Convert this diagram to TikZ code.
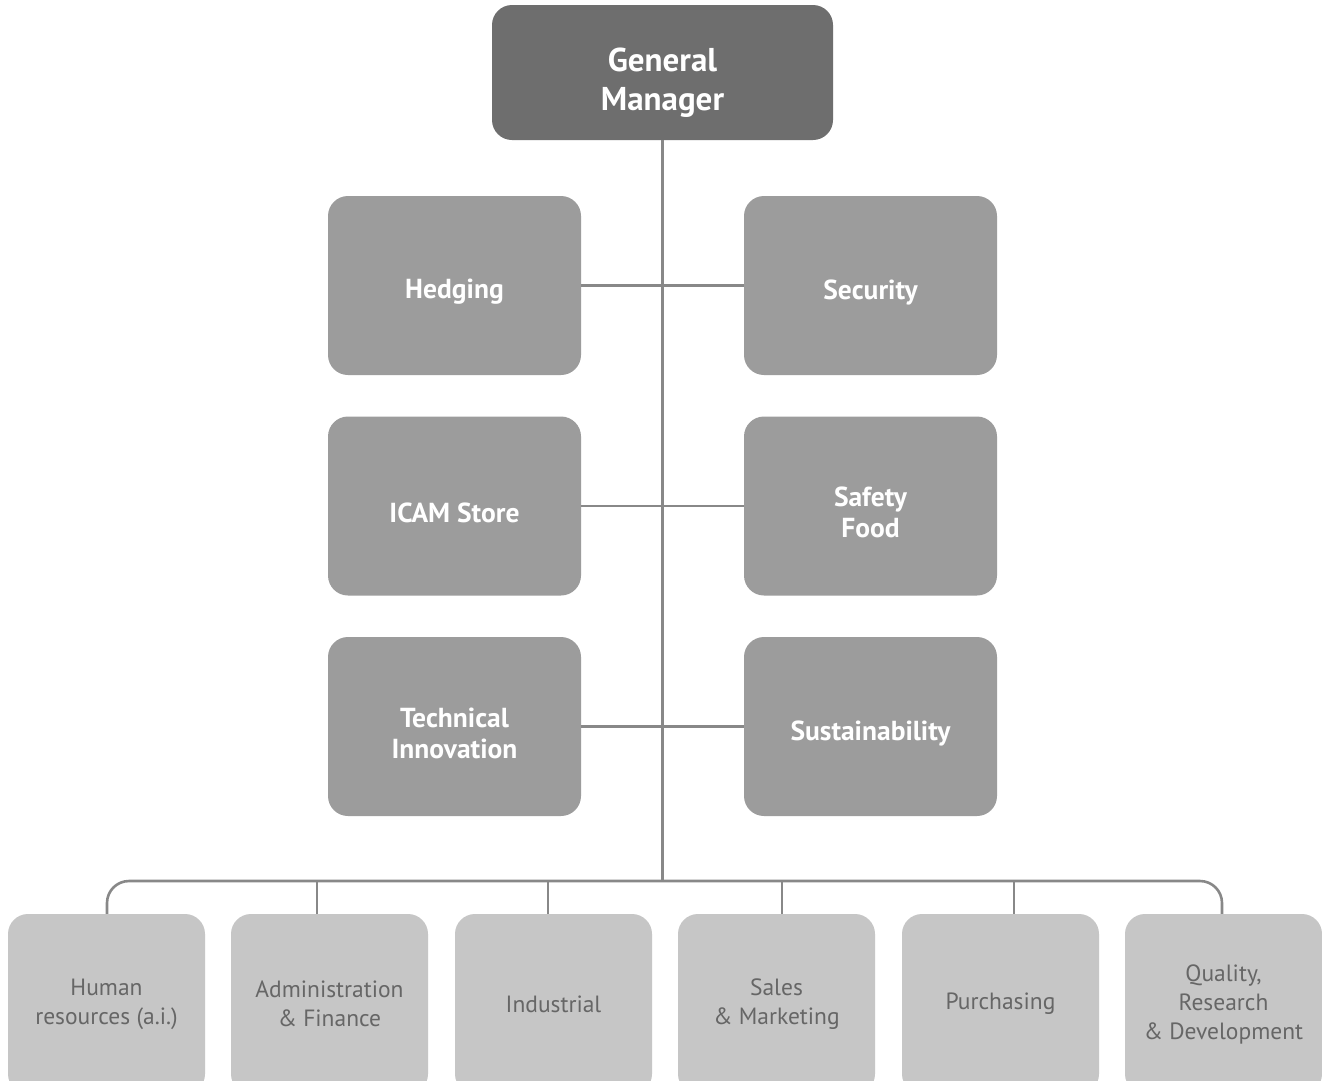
\documentclass[tikz,border=0pt]{standalone}
\usepackage{fontspec}
\setmainfont{PT Sans}
\definecolor{gmc}{HTML}{6E6E6E}
\definecolor{midc}{HTML}{9C9C9C}
\definecolor{lowc}{HTML}{C6C6C6}
\definecolor{linec}{HTML}{888888}
\definecolor{lowtext}{HTML}{666666}
\newcommand\orgbox[5]{\node[#1] (#2) at (#3) {};
  \node[#1text] (#2t) at ([yshift=#4]#2.center) {#5};}
\begin{document}
\begin{tikzpicture}[x=1pt,y=-1pt,
  box/.style={rounded corners=20pt, inner sep=0pt},
  gmbox/.style={box, fill=gmc, minimum width=341pt, minimum height=135pt},
  gmboxtext/.style={align=center, text=white, inner sep=0pt, font=\fontsize{33}{39}\selectfont\bfseries},
  midbox/.style={box, fill=midc, minimum width=253pt, minimum height=179pt},
  midboxtext/.style={align=center, text=white, inner sep=0pt, font=\fontsize{27.5}{31}\selectfont\bfseries},
  lowbox/.style={box, fill=lowc, minimum width=197pt, minimum height=180pt},
  lowboxtext/.style={align=center, text=lowtext, inner sep=0pt, font=\fontsize{23.5}{29}\selectfont},
  conn/.style={draw=linec, line width=2.6pt}]
\useasboundingbox (0,0) rectangle (1322,1080);
\clip (0,0) rectangle (1322,1080);
\fill[white] (0,0) rectangle (1322,1080);
\coordinate (bl) at (107,881);
\coordinate (br) at (1222,881);
\orgbox{gmbox}{gm}{662.5,72.5}{-10pt}{General\\Manager}
\orgbox{midbox}{hedging}{454.5,285.5}{-6.5pt}{Hedging}
\orgbox{midbox}{security}{870.5,285.5}{-6.5pt}{Security}
\orgbox{midbox}{icam}{454.5,506}{-6.5pt}{ICAM Store}
\orgbox{midbox}{safety}{870.5,506}{-6.5pt}{Safety\\Food}
\orgbox{midbox}{tech}{454.5,726.5}{-6.5pt}{Technical\\Innovation}
\orgbox{midbox}{sust}{870.5,726.5}{-6.5pt}{Sustainability}
\orgbox{lowbox}{hr}{106.5,1004}{0pt}{Human\\resources (a.i.)}
\orgbox{lowbox}{af}{329.5,1004}{0pt}{Administration\\\&~Finance}
\orgbox{lowbox}{ind}{553.5,1004}{0pt}{Industrial}
\orgbox{lowbox}{sm}{776.5,1004}{0pt}{Sales\\\&~Marketing}
\orgbox{lowbox}{pur}{1000.5,1004}{0pt}{Purchasing}
\orgbox{lowbox}{qrd}{1223.5,1004}{0pt}{Quality,\\Research\\\&~Development}
\draw[conn] (gm.south) -- (gm.south |- bl);
\draw[conn] (hedging.east) -- (security.west);
\draw[conn] (icam.east) -- (safety.west);
\draw[conn] (tech.east) -- (sust.west);
\draw[conn, rounded corners=22pt] (hr.north -| bl) -- (bl) -- (br) -- (qrd.north -| br);
\draw[conn] ([xshift=-12.5pt]af.north) -- ([xshift=-12.5pt]af.north |- bl);
\draw[conn] ([xshift=-5.5pt]ind.north) -- ([xshift=-5.5pt]ind.north |- bl);
\draw[conn] ([xshift=5.5pt]sm.north) -- ([xshift=5.5pt]sm.north |- bl);
\draw[conn] ([xshift=13.5pt]pur.north) -- ([xshift=13.5pt]pur.north |- bl);
\end{tikzpicture}
\end{document}
